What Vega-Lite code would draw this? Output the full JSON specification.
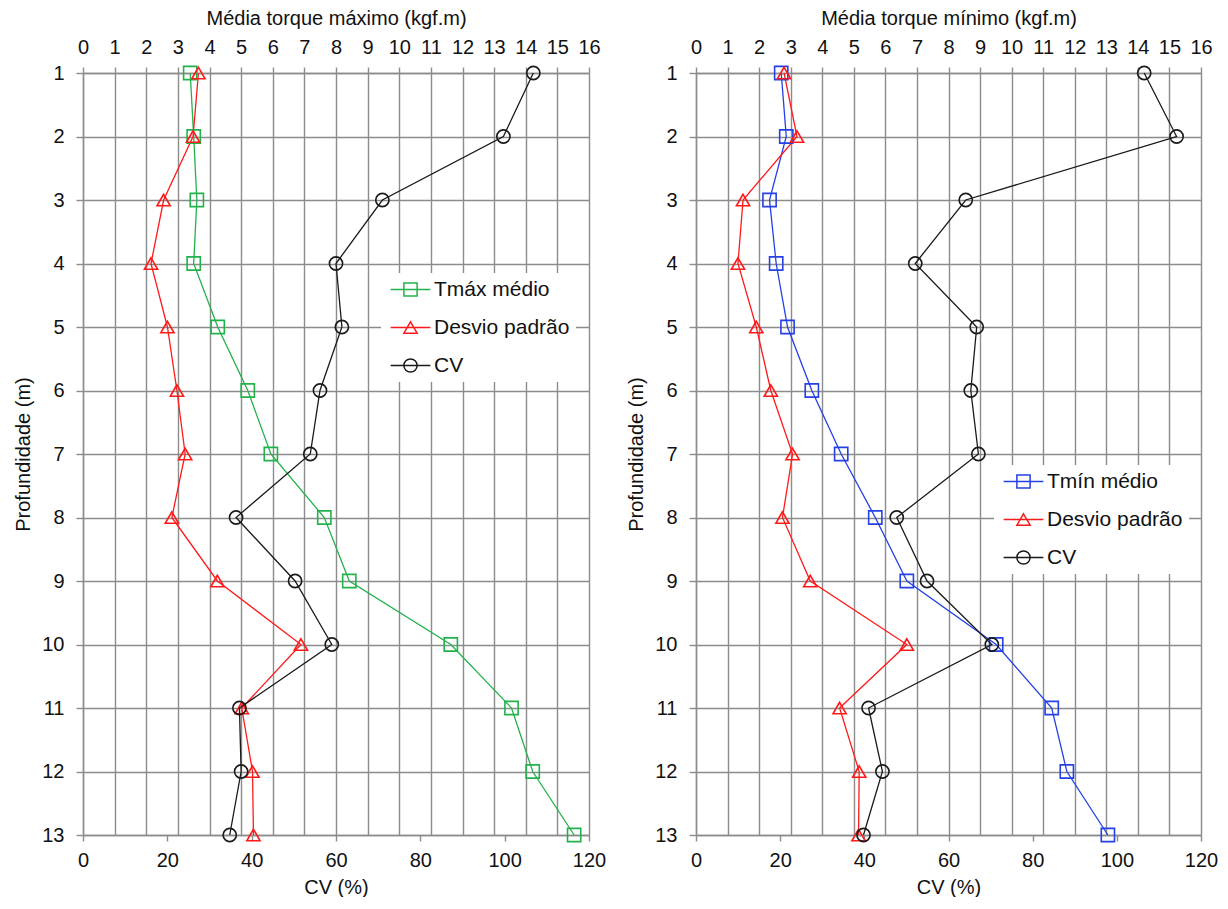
{
  "$schema": "https://vega.github.io/schema/vega-lite/v6.json",
  "background": "white",
  "padding": {"left": 13, "top": 8, "right": 0, "bottom": 0},
  "autosize": "pad",
  "spacing": 20,
  "config": {
    "view": {"stroke": null},
    "font": "Liberation Sans",
    "axis": {
      "gridColor": "#8c8c8c", "gridWidth": 1.4, "gridOpacity": 1,
      "domainColor": "#8c8c8c", "domainWidth": 1.4,
      "tickColor": "#8c8c8c", "tickWidth": 1.4,
      "labelFont": "Liberation Sans", "labelFontSize": 20, "labelColor": "#111111",
      "titleFont": "Liberation Sans", "titleFontSize": 20, "titleFontWeight": "normal", "titleColor": "#111111",
      "labelOverlap": false, "labelFlush": false
    },
    "legend": {
      "labelFont": "Liberation Sans", "labelFontSize": 21, "labelColor": "#111111"
    }
  },
  "datasets": {
    "esq": [
      {"prof": 1, "serie": "Tmáx médio", "valor": 3.39}, {"prof": 2, "serie": "Tmáx médio", "valor": 3.50},
      {"prof": 3, "serie": "Tmáx médio", "valor": 3.60}, {"prof": 4, "serie": "Tmáx médio", "valor": 3.50},
      {"prof": 5, "serie": "Tmáx médio", "valor": 4.26}, {"prof": 6, "serie": "Tmáx médio", "valor": 5.21},
      {"prof": 7, "serie": "Tmáx médio", "valor": 5.94}, {"prof": 8, "serie": "Tmáx médio", "valor": 7.63},
      {"prof": 9, "serie": "Tmáx médio", "valor": 8.42}, {"prof": 10, "serie": "Tmáx médio", "valor": 11.63},
      {"prof": 11, "serie": "Tmáx médio", "valor": 13.55}, {"prof": 12, "serie": "Tmáx médio", "valor": 14.22},
      {"prof": 13, "serie": "Tmáx médio", "valor": 15.53},
      {"prof": 1, "serie": "Desvio padrão", "valor": 3.65}, {"prof": 2, "serie": "Desvio padrão", "valor": 3.48},
      {"prof": 3, "serie": "Desvio padrão", "valor": 2.55}, {"prof": 4, "serie": "Desvio padrão", "valor": 2.15},
      {"prof": 5, "serie": "Desvio padrão", "valor": 2.67}, {"prof": 6, "serie": "Desvio padrão", "valor": 2.97},
      {"prof": 7, "serie": "Desvio padrão", "valor": 3.23}, {"prof": 8, "serie": "Desvio padrão", "valor": 2.81},
      {"prof": 9, "serie": "Desvio padrão", "valor": 4.25}, {"prof": 10, "serie": "Desvio padrão", "valor": 6.89},
      {"prof": 11, "serie": "Desvio padrão", "valor": 5.02}, {"prof": 12, "serie": "Desvio padrão", "valor": 5.36},
      {"prof": 13, "serie": "Desvio padrão", "valor": 5.39},
      {"prof": 1, "serie": "CV", "valor": 106.8}, {"prof": 2, "serie": "CV", "valor": 99.7},
      {"prof": 3, "serie": "CV", "valor": 71.0}, {"prof": 4, "serie": "CV", "valor": 60.0},
      {"prof": 5, "serie": "CV", "valor": 61.4}, {"prof": 6, "serie": "CV", "valor": 56.2},
      {"prof": 7, "serie": "CV", "valor": 53.9}, {"prof": 8, "serie": "CV", "valor": 36.3},
      {"prof": 9, "serie": "CV", "valor": 50.3}, {"prof": 10, "serie": "CV", "valor": 59.0},
      {"prof": 11, "serie": "CV", "valor": 37.1}, {"prof": 12, "serie": "CV", "valor": 37.5},
      {"prof": 13, "serie": "CV", "valor": 34.8}
    ],
    "dir": [
      {"prof": 1, "serie": "Tmín médio", "valor": 2.70}, {"prof": 2, "serie": "Tmín médio", "valor": 2.86},
      {"prof": 3, "serie": "Tmín médio", "valor": 2.33}, {"prof": 4, "serie": "Tmín médio", "valor": 2.54},
      {"prof": 5, "serie": "Tmín médio", "valor": 2.90}, {"prof": 6, "serie": "Tmín médio", "valor": 3.67},
      {"prof": 7, "serie": "Tmín médio", "valor": 4.60}, {"prof": 8, "serie": "Tmín médio", "valor": 5.68},
      {"prof": 9, "serie": "Tmín médio", "valor": 6.68}, {"prof": 10, "serie": "Tmín médio", "valor": 9.51},
      {"prof": 11, "serie": "Tmín médio", "valor": 11.27}, {"prof": 12, "serie": "Tmín médio", "valor": 11.75},
      {"prof": 13, "serie": "Tmín médio", "valor": 13.05},
      {"prof": 1, "serie": "Desvio padrão", "valor": 2.79}, {"prof": 2, "serie": "Desvio padrão", "valor": 3.20},
      {"prof": 3, "serie": "Desvio padrão", "valor": 1.49}, {"prof": 4, "serie": "Desvio padrão", "valor": 1.33},
      {"prof": 5, "serie": "Desvio padrão", "valor": 1.91}, {"prof": 6, "serie": "Desvio padrão", "valor": 2.37},
      {"prof": 7, "serie": "Desvio padrão", "valor": 3.06}, {"prof": 8, "serie": "Desvio padrão", "valor": 2.74},
      {"prof": 9, "serie": "Desvio padrão", "valor": 3.62}, {"prof": 10, "serie": "Desvio padrão", "valor": 6.68},
      {"prof": 11, "serie": "Desvio padrão", "valor": 4.55}, {"prof": 12, "serie": "Desvio padrão", "valor": 5.17},
      {"prof": 13, "serie": "Desvio padrão", "valor": 5.15},
      {"prof": 1, "serie": "CV", "valor": 106.5}, {"prof": 2, "serie": "CV", "valor": 114.2},
      {"prof": 3, "serie": "CV", "valor": 64.1}, {"prof": 4, "serie": "CV", "valor": 52.1},
      {"prof": 5, "serie": "CV", "valor": 66.7}, {"prof": 6, "serie": "CV", "valor": 65.3},
      {"prof": 7, "serie": "CV", "valor": 67.1}, {"prof": 8, "serie": "CV", "valor": 47.7},
      {"prof": 9, "serie": "CV", "valor": 54.9}, {"prof": 10, "serie": "CV", "valor": 70.3},
      {"prof": 11, "serie": "CV", "valor": 41.0}, {"prof": 12, "serie": "CV", "valor": 44.3},
      {"prof": 13, "serie": "CV", "valor": 39.8}
    ]
  },
  "hconcat": [
    {
      "width": 506, "height": 762,
      "data": {"name": "esq"},
      "encoding": {
        "y": {"field": "prof", "type": "quantitative",
              "scale": {"domain": [1, 13], "reverse": true, "nice": false, "zero": false},
              "axis": {"values": [1,2,3,4,5,6,7,8,9,10,11,12,13], "grid": true, "tickSize": 7, "labelPadding": 12, "title": "Profundidade (m)", "titlePadding": 8}},
        "color": {"field": "serie", "type": "nominal",
                  "scale": {"domain": ["Tmáx médio", "Desvio padrão", "CV"], "range": ["#22b24c", "#ff1a1a", "#1a1a1a"]},
                  "legend": {"title": null, "orient": "none", "legendX": 298, "legendY": 200, "fillColor": "white", "padding": 6, "rowPadding": 16, "symbolSize": 175, "symbolOffset": 13, "labelOffset": 13, "labelLimit": 400,
                    "encode": {"symbols": {"update": {
                      "shape": {"signal": "datum.value === 'CV' ? 'M-3,0H3M1,0A1,1 0 1,1 -1,0A1,1 0 1,1 1,0' : (datum.value === 'Desvio padrão' ? 'M-3,0H3M0,-0.866L1,0.866L-1,0.866Z' : 'M-3,0H3M-1,-1H1V1H-1Z')"},
                      "fill": {"value": "transparent"}, "strokeWidth": {"value": 1.5}}}}}}
      },
      "layer": [
        {
          "encoding": {
            "x": {"field": "valor", "type": "quantitative",
                  "scale": {"domain": [0, 16], "nice": false, "zero": false},
                  "axis": {"orient": "top", "values": [0,1,2,3,4,5,6,7,8,9,10,11,12,13,14,15,16], "grid": true, "tickSize": 6, "labelPadding": 10, "title": "Média torque máximo (kgf.m)", "titlePadding": 9}}
          },
          "layer": [
            {"transform": [{"filter": "datum.serie !== 'CV'"}], "mark": {"type": "line", "strokeWidth": 1.3}, "encoding": {"order": {"field": "prof"}}},
            {"transform": [{"filter": "datum.serie === 'Tmáx médio'"}], "mark": {"type": "point", "shape": "square", "filled": false, "size": 175, "strokeWidth": 1.6, "opacity": 1}},
            {"transform": [{"filter": "datum.serie === 'Desvio padrão'"}], "mark": {"type": "point", "shape": "triangle-up", "filled": false, "size": 175, "strokeWidth": 1.6, "opacity": 1}}
          ]
        },
        {
          "transform": [{"filter": "datum.serie === 'CV'"}],
          "encoding": {
            "x": {"field": "valor", "type": "quantitative",
                  "scale": {"domain": [0, 120], "nice": false, "zero": false},
                  "axis": {"orient": "bottom", "values": [0,20,40,60,80,100,120], "grid": false, "tickSize": 6, "labelPadding": 9, "title": "CV (%)", "titlePadding": 7}}
          },
          "layer": [
            {"mark": {"type": "line", "strokeWidth": 1.3}, "encoding": {"order": {"field": "prof"}}},
            {"mark": {"type": "point", "shape": "circle", "filled": false, "size": 175, "strokeWidth": 1.6, "opacity": 1}}
          ]
        }
      ],
      "resolve": {"scale": {"x": "independent"}}
    },
    {
      "width": 505, "height": 762,
      "data": {"name": "dir"},
      "encoding": {
        "y": {"field": "prof", "type": "quantitative",
              "scale": {"domain": [1, 13], "reverse": true, "nice": false, "zero": false},
              "axis": {"values": [1,2,3,4,5,6,7,8,9,10,11,12,13], "grid": true, "tickSize": 7, "labelPadding": 12, "title": "Profundidade (m)", "titlePadding": 8}},
        "color": {"field": "serie", "type": "nominal",
                  "scale": {"domain": ["Tmín médio", "Desvio padrão", "CV"], "range": ["#2440e6", "#ff1a1a", "#1a1a1a"]},
                  "legend": {"title": null, "orient": "none", "legendX": 298, "legendY": 392, "fillColor": "white", "padding": 6, "rowPadding": 16, "symbolSize": 175, "symbolOffset": 13, "labelOffset": 13, "labelLimit": 400,
                    "encode": {"symbols": {"update": {
                      "shape": {"signal": "datum.value === 'CV' ? 'M-3,0H3M1,0A1,1 0 1,1 -1,0A1,1 0 1,1 1,0' : (datum.value === 'Desvio padrão' ? 'M-3,0H3M0,-0.866L1,0.866L-1,0.866Z' : 'M-3,0H3M-1,-1H1V1H-1Z')"},
                      "fill": {"value": "transparent"}, "strokeWidth": {"value": 1.5}}}}}}
      },
      "layer": [
        {
          "encoding": {
            "x": {"field": "valor", "type": "quantitative",
                  "scale": {"domain": [0, 16], "nice": false, "zero": false},
                  "axis": {"orient": "top", "values": [0,1,2,3,4,5,6,7,8,9,10,11,12,13,14,15,16], "grid": true, "tickSize": 6, "labelPadding": 10, "title": "Média torque mínimo (kgf.m)", "titlePadding": 9}}
          },
          "layer": [
            {"transform": [{"filter": "datum.serie !== 'CV'"}], "mark": {"type": "line", "strokeWidth": 1.3}, "encoding": {"order": {"field": "prof"}}},
            {"transform": [{"filter": "datum.serie === 'Tmín médio'"}], "mark": {"type": "point", "shape": "square", "filled": false, "size": 175, "strokeWidth": 1.6, "opacity": 1}},
            {"transform": [{"filter": "datum.serie === 'Desvio padrão'"}], "mark": {"type": "point", "shape": "triangle-up", "filled": false, "size": 175, "strokeWidth": 1.6, "opacity": 1}}
          ]
        },
        {
          "transform": [{"filter": "datum.serie === 'CV'"}],
          "encoding": {
            "x": {"field": "valor", "type": "quantitative",
                  "scale": {"domain": [0, 120], "nice": false, "zero": false},
                  "axis": {"orient": "bottom", "values": [0,20,40,60,80,100,120], "grid": false, "tickSize": 6, "labelPadding": 9, "title": "CV (%)", "titlePadding": 7}}
          },
          "layer": [
            {"mark": {"type": "line", "strokeWidth": 1.3}, "encoding": {"order": {"field": "prof"}}},
            {"mark": {"type": "point", "shape": "circle", "filled": false, "size": 175, "strokeWidth": 1.6, "opacity": 1}}
          ]
        }
      ],
      "resolve": {"scale": {"x": "independent"}}
    }
  ],
  "resolve": {"scale": {"color": "independent"}, "legend": {"color": "independent"}}
}
